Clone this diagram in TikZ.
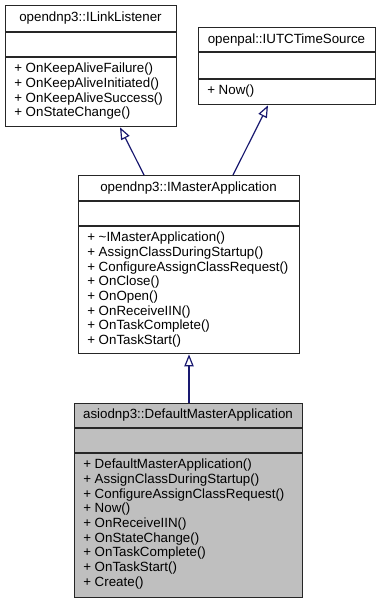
\documentclass[tikz,border=0pt]{standalone}
\usepackage{fontspec}
\setmainfont{Liberation Sans}
\usetikzlibrary{calc,arrows.meta}

\definecolor{edgeblue}{HTML}{191970}
\definecolor{boxgray}{HTML}{BFBFBF}

\tikzset{
  classbox/.style={draw=black!85, line width=1pt, fill=white, anchor=north west, inner sep=0pt},
  sepline/.style={draw=black!85, line width=1pt},
  classtitle/.style={inner sep=0pt, font=\fontsize{10}{11}\selectfont},
  members/.style={inner sep=0pt, anchor=north west, align=left, font=\fontsize{10}{11}\selectfont},
  inherit/.style={draw=edgeblue, line width=0.9pt, -{Triangle[open, length=9pt, width=7pt, fill=white]}}
}

\begin{document}
\begin{tikzpicture}[x=0.75pt, y=-0.75pt]
	\useasboundingbox (0,0) rectangle (381,603);
	
	%%%%% base classes %%%%%
	
	\node[classbox, minimum width=171*0.75pt, minimum height=121*0.75pt] (listener) at (5,5) {};
	\draw[sepline] (5,32) -- (176,32);
	\draw[sepline] (5,57) -- (176,57);
	\node[classtitle] (listenertitle) at (90.5,18.5) {opendnp3::ILinkListener};
	\node[members] (listenermembers) at (14,63) {+ OnKeepAliveFailure()\\+ OnKeepAliveInitiated()\\+ OnKeepAliveSuccess()\\+ OnStateChange()};
	
	\node[classbox, minimum width=177*0.75pt, minimum height=77*0.75pt] (timesource) at (198,27) {};
	\draw[sepline] (198,52) -- (375,52);
	\draw[sepline] (198,79) -- (375,79);
	\node[classtitle] (timesourcetitle) at (286.5,40) {openpal::IUTCTimeSource};
	\node[members] (timesourcemembers) at (207,85) {+ Now()};
	
	%%%%% interface %%%%%
	
	\node[classbox, minimum width=221*0.75pt, minimum height=178*0.75pt] (masterapp) at (78,175) {};
	\draw[sepline] (78,201) -- (299,201);
	\draw[sepline] (78,226) -- (299,226);
	\node[classtitle] (masterapptitle) at (188.5,188) {opendnp3::IMasterApplication};
	\node[members] (masterappmembers) at (87,232) {+ \textasciitilde IMasterApplication()\\+ AssignClassDuringStartup()\\+ ConfigureAssignClassRequest()\\+ OnClose()\\+ OnOpen()\\+ OnReceiveIIN()\\+ OnTaskComplete()\\+ OnTaskStart()};
	
	%%%%% implementation %%%%%
	
	\node[classbox, fill=boxgray, minimum width=228*0.75pt, minimum height=194*0.75pt] (defaultapp) at (74,403) {};
	\draw[sepline] (74,428) -- (302,428);
	\draw[sepline] (74,453) -- (302,453);
	\node[classtitle] (defaultapptitle) at (188,415.5) {asiodnp3::DefaultMasterApplication};
	\node[members] (defaultappmembers) at (83,459) {+ DefaultMasterApplication()\\+ AssignClassDuringStartup()\\+ ConfigureAssignClassRequest()\\+ Now()\\+ OnReceiveIIN()\\+ OnStateChange()\\+ OnTaskComplete()\\+ OnTaskStart()\\+ Create()};
	
	%%%%% inheritance %%%%%
	
	\draw[inherit] ($(masterapp.north west)+(66,0)$) -- ($(listener.south west)+(115,0)$);
	\draw[inherit] ($(masterapp.north west)+(155,0)$) -- ($(timesource.south west)+(70,0)$);
	\draw[inherit] ($(defaultapp.north west)+(115,0)$) -- ($(masterapp.south west)+(111,0)$);
	
\end{tikzpicture}
\end{document}
